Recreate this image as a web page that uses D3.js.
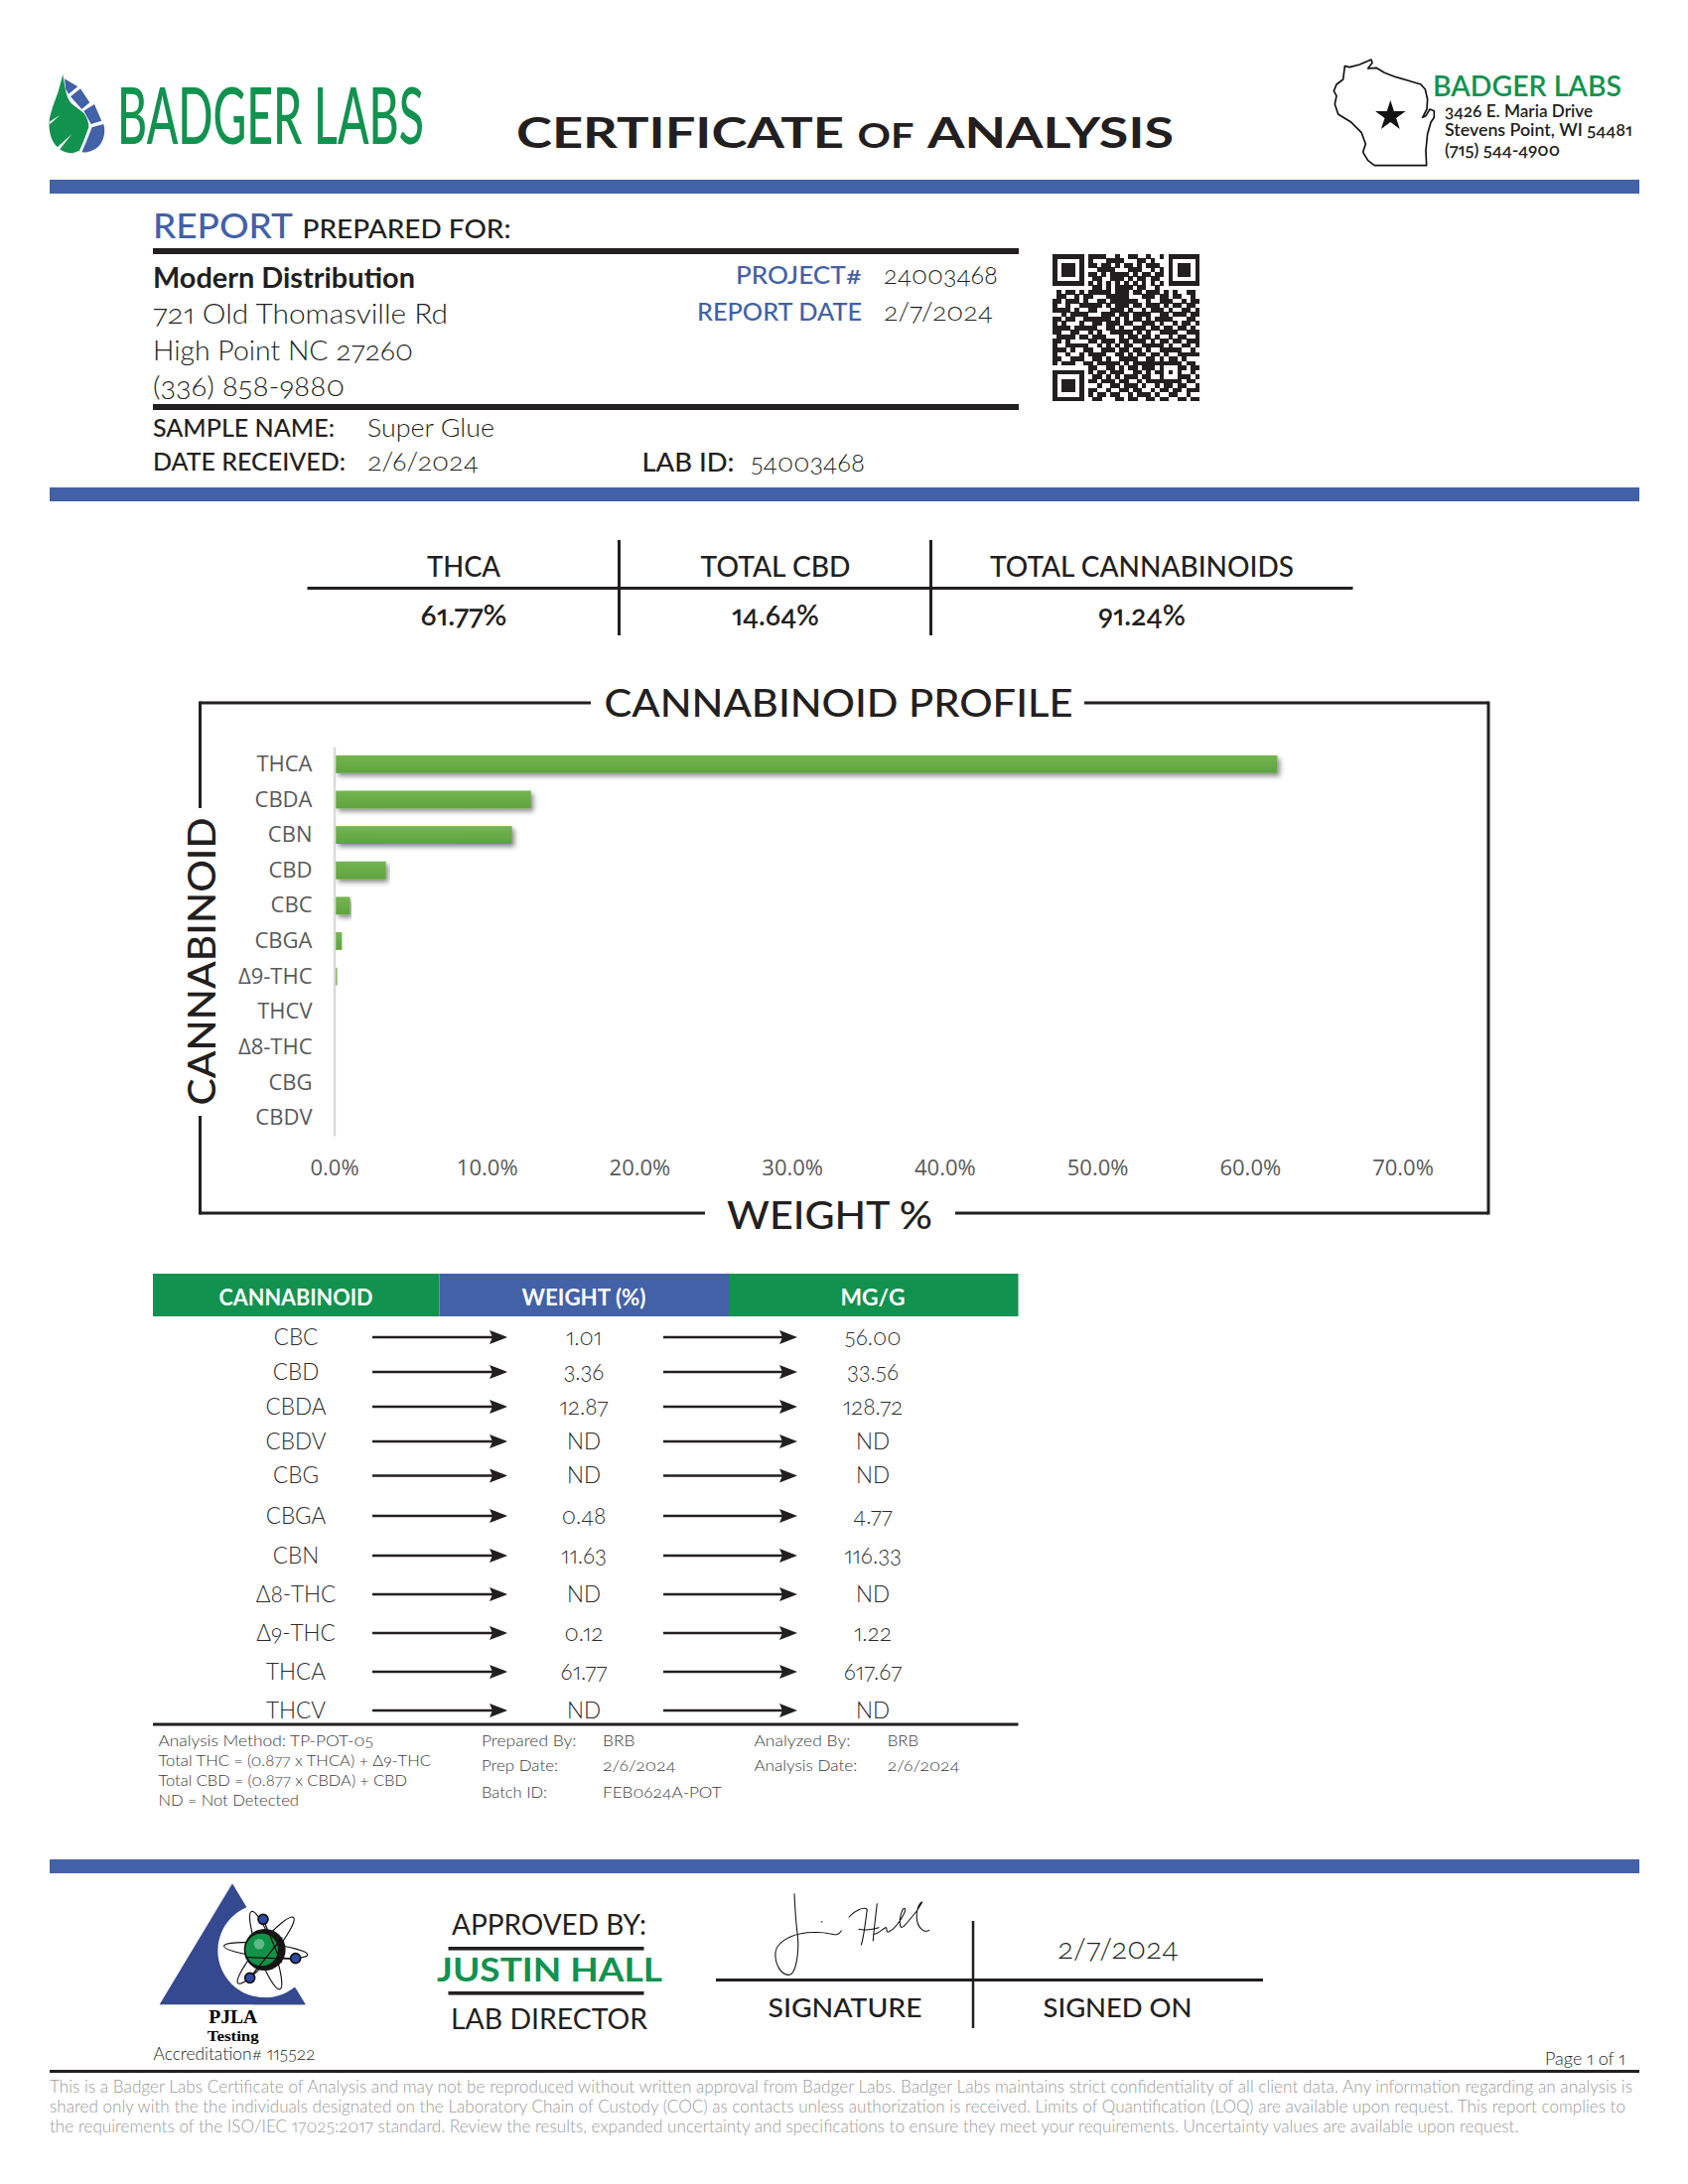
<!DOCTYPE html>
<html><head><meta charset="utf-8">
<script src="https://cdn.jsdelivr.net/npm/d3@7/dist/d3.min.js"></script>
<style>
html,body{margin:0;padding:0;background:#fff}
svg{display:block;position:absolute;left:0;top:0}
text{font-family:Lato,"Open Sans",sans-serif;font-feature-settings:"onum" 1,"pnum" 1;font-kerning:normal}
</style></head><body>
<script>
// ---- data ----
const categories = ["THCA","CBDA","CBN","CBD","CBC","CBGA","Δ9-THC","THCV","Δ8-THC","CBG","CBDV"];
const weights = [61.77,12.87,11.63,3.36,1.01,0.48,0.12,0,0,0,0];
const xTicks = [0,10,20,30,40,50,60,70];
const tableNames = ["CBC","CBD","CBDA","CBDV","CBG","CBGA","CBN","Δ8-THC","Δ9-THC","THCA","THCV"];
const tableWeight = ["1.01","3.36","12.87","ND","ND","0.48","11.63","ND","0.12","61.77","ND"];
const tableMg = ["56.00","33.56","128.72","ND","ND","4.77","116.33","ND","1.22","617.67","ND"];
const summaryHeads = ["THCA","TOTAL CBD","TOTAL CANNABINOIDS"];
const summaryVals = ["61.77%","14.64%","91.24%"];
const disclaimer = [
"This is a Badger Labs Certificate of Analysis and may not be reproduced without written approval from Badger Labs. Badger Labs maintains strict confidentiality of all client data. Any information regarding an analysis is",
"shared only with the the individuals designated on the Laboratory Chain of Custody (COC) as contacts unless authorization is received. Limits of Quantification (LOQ) are available upon request. This report complies to",
"the requirements of the ISO/IEC 17025:2017 standard. Review the results, expanded uncertainty and specifications to ensure they meet your requirements. Uncertainty values are available upon request."];
const qrRows = [
"111111101111001001100100101111111",
"100000101000111100011010001000001",
"101110101101101011010111001011101",
"101110100011110001110010101011101",
"101110101101011110101101101011101",
"100000100110011101011011001000001",
"111111101010101010101010101111111",
"000000000110101111011001000000000",
"010110101111101110110111010100110",
"011001011000111110001110110110010",
"110111010011011111100100111001011",
"100100111110101110110111010110110",
"111101001100011101001011101001101",
"001011110001110110111100110111011",
"110110011111101010110101111000110",
"101000100110111011001110100101101",
"111101111100110100111011011011010",
"110011001010011111010100111100111",
"011110110111000101101101001011001",
"110100001101110110111010110110111",
"100111110010101011001111101001101",
"111010011001110110110100111110010",
"100100101111001101011011010011111",
"110011100110100111100110101101000",
"101110011011111010111111111110110",
"000000001100110101101110100011011",
"111111101011011100110101101010010",
"100000100110101011101100100011101",
"101110101101110110010111111110110",
"101110100010011011101001011011001",
"101110101100100110110010110110111",
"100000101011011001011101001100100",
"111111100110001101100110110011011"];

// ---- palette / layout ----
const GREEN="#12924f", BLUE="#4261a7", INK="#231f20", NAVY="#34498f";
const rowY=[1347,1382,1417,1452,1486.5,1527,1567,1606,1645,1684,1723];
const svg=d3.select("body").append("svg").attr("width",1700).attr("height",2200).attr("viewBox","0 0 1700 2200");
svg.append("rect").attr("width",1700).attr("height",2200).attr("fill","#fff");
const defs=svg.append("defs");
const grad=defs.append("linearGradient").attr("id","barGrad").attr("x1",0).attr("y1",0).attr("x2",0).attr("y2",1);
grad.append("stop").attr("offset",0).attr("stop-color","#74b550");
grad.append("stop").attr("offset",1).attr("stop-color","#5fa33e");
const sh=defs.append("filter").attr("id","barShadow").attr("x","-5%").attr("y","-30%").attr("width","112%").attr("height","190%").attr("filterUnits","objectBoundingBox");
sh.append("feDropShadow").attr("dx",2.5).attr("dy",3).attr("stdDeviation",2.4).attr("flood-color","#000").attr("flood-opacity",.45);

function T(x,y,s,o={}){
  const t=svg.append("text").attr("x",x).attr("y",y).text(s)
    .attr("font-size",o.size||24).attr("font-weight",o.weight||400)
    .attr("fill",o.fill||INK).attr("text-anchor",o.anchor||"start");
  if(o.w) t.attr("textLength",o.w).attr("lengthAdjust","spacingAndGlyphs");
  if(o.family) t.style("font-family",o.family);
  if(o.transform) t.attr("transform",o.transform);
  return t;
}
function R(x,y,w,h,fill){return svg.append("rect").attr("x",x).attr("y",y).attr("width",w).attr("height",h).attr("fill",fill);}
function L(x1,y1,x2,y2,c,w){return svg.append("line").attr("x1",x1).attr("y1",y1).attr("x2",x2).attr("y2",y2).attr("stroke",c||INK).attr("stroke-width",w||3);}

// ---- header ----
const logo=svg.append("g").attr("transform","translate(45,70) scale(.3333)");
logo.append("path").attr("fill",GREEN).attr("d","M55,15 L40,70 L25,110 L15,145 C10,180 18,210 30,225 C45,245 65,253 85,253 L105,245 L118,215 L133,175 C134,160 128,145 118,132 C105,118 85,110 75,95 C65,80 60,50 55,15Z");
logo.append("path").attr("fill","#fff").attr("d","M46,138 L14,158 L16,165Z M82,195 L38,235 L46,241Z");
logo.selectAll("path.b").data(["M60,28 L100,52 L72,74 L63,58Z","M108,58 L136,100 L112,120 L78,82Z","M150,105 L172,155 L140,165 L118,125Z","M178,165 C185,190 178,215 165,230 C150,245 130,252 112,250 L125,220 L143,175Z"])
  .join("path").attr("class","b").attr("fill",BLUE).attr("d",d=>d);
// narrow wordmark: squeeze by measured scale so its box stays its drawn width
const wm=T(0,0,"BADGER LABS",{size:79,weight:500,fill:GREEN});
wm.attr("transform",`translate(118,145) scale(${309/wm.node().getComputedTextLength()},1)`);
T(520,149,"CERTIFICATE",{size:42,weight:700,w:330});
T(863.5,149,"OF",{size:35,weight:700,w:57});
T(934,149,"ANALYSIS",{size:42,weight:700,w:248});
const wi=svg.append("g").attr("transform","translate(1336,55) scale(.3333)");
wi.append("path").attr("fill","none").attr("stroke","#111").attr("stroke-width",5).attr("stroke-linejoin","round")
 .attr("d","M55,35 L70,38 L100,30 L135,15 L138,25 L125,42 L150,40 L175,55 L210,68 L245,78 L285,90 L298,105 L305,135 L303,165 L290,190 L300,185 L312,165 L325,170 L325,190 L315,205 L305,240 L300,290 L302,335 L145,335 L125,320 L110,295 L118,270 L105,235 L75,205 L35,180 L25,150 L30,125 L22,110 L30,90 L50,75Z");
wi.append("path").attr("fill","#111").attr("transform","translate(193,186)").attr("d",d3.symbol(d3.symbolStar,2600));
T(1443,97,"BADGER LABS",{size:28,weight:600,fill:GREEN,w:190});
T(1455,118,"3426 E. Maria Drive",{size:16.5,weight:600,w:149});
T(1455,137,"Stevens Point, WI 54481",{size:16.5,weight:600,w:189});
T(1455,157,"(715) 544-4900",{size:16.5,weight:600,w:116});
R(50,181,1601,14,BLUE);

// ---- client block ----
T(154,240,"REPORT",{size:35,weight:500,fill:BLUE,w:141});
T(304.5,240,"PREPARED FOR:",{size:27,weight:500,w:210});
R(154,250,872,6,INK);
T(154,290,"Modern Distribution",{size:29,weight:700,w:264});
T(154,325.5,"721 Old Thomasville Rd",{size:28,weight:300,w:297});
T(154,363,"High Point NC 27260",{size:28,weight:300,w:262});
T(154,399,"(336) 858-9880",{size:28,weight:300,w:193});
R(154,407,872,6,INK);
T(154,440,"SAMPLE NAME:",{size:24,weight:500,w:183});
T(370,440,"Super Glue",{size:25,weight:300,w:128});
T(154,474,"DATE RECEIVED:",{size:24,weight:500,w:194});
T(370,474,"2/6/2024",{size:25,weight:300,w:112});
T(646.5,475,"LAB ID:",{size:27,weight:500,w:93});
T(756,475,"54003468",{size:25,weight:300,w:115});
T(868,286,"PROJECT#",{size:25,weight:500,fill:BLUE,anchor:"end",w:127});
T(868,323,"REPORT DATE",{size:25,weight:500,fill:BLUE,anchor:"end",w:166});
T(890,286,"24003468",{size:26,weight:300,w:115});
T(890,323,"2/7/2024",{size:26,weight:300,w:110});
R(50,491,1601,14,BLUE);

// QR code
const qrX=d3.scaleLinear().domain([0,33]).range([1060,1208]);
const qrY=d3.scaleLinear().domain([0,33]).range([256,404]);
const qrG=svg.append("g").attr("fill",INK).attr("shape-rendering","crispEdges");
qrRows.forEach((row,r)=>[...row].forEach((c,k)=>{ if(c==="1") qrG.append("rect").attr("x",qrX(k)).attr("y",qrY(r)).attr("width",qrX(1)-qrX(0)+.3).attr("height",qrY(1)-qrY(0)+.3);}));

// ---- summary ----
L(309.5,592.5,1362.5,592.5,INK,3);
L(623.5,544,623.5,640,INK,3);
L(937.5,544,937.5,640,INK,3);
const sumX=[467,781,1150], sumHW=[74,151,306], sumVW=[87,88,88];
summaryHeads.forEach((s,i)=>T(sumX[i],581,s,{size:28,weight:500,anchor:"middle",w:sumHW[i]}));
summaryVals.forEach((s,i)=>T(sumX[i],629.5,s,{size:28,weight:600,anchor:"middle",w:sumVW[i]}));

// ---- chart ----
const x=d3.scaleLinear().domain([0,70]).range([336.5,1412.5]);
const y=d3.scaleBand().domain(categories).range([752,1144]).paddingInner(.5).paddingOuter(.25);
const plot=svg.append("g");
plot.selectAll("rect.bar").data(categories.map((c,i)=>({c,v:weights[i]})).filter(d=>d.v>0)).join("rect")
  .attr("class","bar").attr("x",x(0)+1.5).attr("y",d=>y(d.c)).attr("height",y.bandwidth())
  .attr("width",d=>Math.max(x(d.v)-x(0)-1,1.5))
  .attr("fill","url(#barGrad)").attr("filter",d=>d.v>1?"url(#barShadow)":null);
const ay=plot.append("g").attr("transform",`translate(${x(0)},0)`).call(d3.axisLeft(y).tickSize(0).tickPadding(22));
ay.select(".domain").attr("stroke","#d9d9d9").attr("stroke-width",2.5);
ay.selectAll("text").attr("fill","#595959").style("font-family",'"Open Sans",Lato,sans-serif').style("font-feature-settings","normal").attr("font-size",22).attr("font-weight",400);
const ax=plot.append("g").attr("transform","translate(0,1144)").call(d3.axisBottom(x).tickValues(xTicks).tickFormat(d=>d3.format(".1f")(d)+"%").tickSize(0).tickPadding(24));
ax.select(".domain").remove();
ax.selectAll("text").attr("fill","#595959").style("font-family",'"Open Sans",Lato,sans-serif').style("font-feature-settings","normal").attr("font-size",22);

// frame
const frame=[[595,708,201.5,708],[201.5,706.5,201.5,814],[201.5,1124,201.5,1223.5],[201.5,1222,710,1222],[962,1222,1499,1222],[1499,1223.5,1499,706.5],[1499,708,1092,708]];
frame.forEach(f=>L(...f,INK,3));
T(608.5,722,"CANNABINOID PROFILE",{size:39,weight:500,w:472});
T(732,1237.5,"WEIGHT %",{size:39,weight:500,w:207});
T(0,0,"CANNABINOID",{size:39,weight:500,anchor:"middle",w:290,transform:"translate(217,968.5) rotate(-90)"});

// ---- table ----
R(154,1283,288.5,43,GREEN);R(442.5,1283,291.5,43,BLUE);R(734,1283,291.5,43,GREEN);
const colX=[298,588,879];
T(colX[0],1315,"CANNABINOID",{size:23,weight:700,fill:"#fff",anchor:"middle",w:155});
T(colX[1],1315,"WEIGHT (%)",{size:23,weight:700,fill:"#fff",anchor:"middle",w:125});
T(colX[2],1315,"MG/G",{size:23,weight:700,fill:"#fff",anchor:"middle",w:65});
const tb=svg.append("g");
function col(arr,cx){ tb.selectAll(null).data(arr).join("text").attr("x",cx).attr("y",(d,i)=>rowY[i]+7.5)
  .attr("text-anchor","middle").attr("font-size",22.5).attr("font-weight",300).attr("fill","#2b2b2b").text(d=>d); }
col(tableNames,colX[0]);col(tableWeight,colX[1]);col(tableMg,colX[2]);
[[375,511],[668,803]].forEach(([a,b])=>{
  tb.selectAll(null).data(rowY).join("line").attr("x1",a).attr("x2",b-12).attr("y1",d=>d).attr("y2",d=>d).attr("stroke",INK).attr("stroke-width",2.4);
  tb.selectAll(null).data(rowY).join("path").attr("fill",INK).attr("d",d=>`M${b},${d} L${b-18},${d-7} L${b-15},${d} L${b-18},${d+7}Z`);
});
R(154,1735.5,871.5,3,INK);
const nt={size:16.5,weight:300,fill:"#3a3a3a"};
T(159.5,1758.6,"Analysis Method: TP-POT-05",{...nt,w:216.5});
T(159.5,1778.6,"Total THC = (0.877 x THCA) + Δ9-THC",{...nt,w:274.5});
T(159.5,1798.6,"Total CBD = (0.877 x CBDA) + CBD",{...nt,w:250.5});
T(159.5,1818.6,"ND = Not Detected",{...nt,w:141.5});
T(485,1758.6,"Prepared By:",{...nt,w:95.4});
T(485,1784,"Prep Date:",{...nt,w:77});
T(485,1810.5,"Batch ID:",{...nt,w:66});
T(607,1758.6,"BRB",{...nt,w:32.4});
T(607,1784,"2/6/2024",{...nt,w:73.6});
T(607,1810.5,"FEB0624A-POT",{...nt,w:119.6});
T(759.4,1758.6,"Analyzed By:",{...nt,w:97});
T(759.4,1784,"Analysis Date:",{...nt,w:104});
T(893.7,1758.6,"BRB",{...nt,w:31.3});
T(893.7,1784,"2/6/2024",{...nt,w:72.8});

// ---- footer ----
R(50,1873,1601,14,BLUE);
const pj=svg.append("g").attr("transform","translate(155,1890) scale(.3333)");
pj.append("path").attr("fill",NAVY).attr("d","M237,22 L458,388 L17,388Z");
pj.append("circle").attr("cx",335).attr("cy",225).attr("r",142).attr("fill","#fff");
pj.append("path").attr("fill",NAVY).attr("d","M430,342 L458,388 L300,388 L300,364 C350,372 395,365 430,342Z");
const orb=pj.append("g").attr("fill","none").attr("stroke","#111").attr("stroke-width",3.5);
[[127,20,6],[130,24,-50],[125,24,70]].forEach(([a,b,r])=>orb.append("ellipse").attr("cx",338).attr("cy",224).attr("rx",a).attr("ry",b).attr("transform",`rotate(${r} 338 224)`));
pj.append("circle").attr("cx",335).attr("cy",222).attr("r",63).attr("fill","#151515");
pj.append("circle").attr("cx",326).attr("cy",222).attr("r",49).attr("fill","#0f9447");
pj.append("circle").attr("cx",318).attr("cy",205).attr("r",16).attr("fill","#5fb78a");
[[330,130,385,262],[290,307,388,185],[278,245,428,250]].forEach(l=>pj.append("line").attr("x1",l[0]).attr("y1",l[1]).attr("x2",l[2]).attr("y2",l[3]).attr("stroke","#111").attr("stroke-width",4));
[[330,130],[428,248],[290,307]].forEach(c=>pj.append("circle").attr("cx",c[0]).attr("cy",c[1]).attr("r",15).attr("fill","#2f4aa5").attr("stroke","#111").attr("stroke-width",5));
T(234.7,2038,"PJLA",{size:19,weight:700,anchor:"middle",w:49,family:'"Liberation Serif",serif',fill:"#000"});
T(234.7,2056,"Testing",{size:15.5,weight:700,anchor:"middle",w:52,family:'"Liberation Serif",serif',fill:"#000"});
T(154.5,2075,"Accreditation# 115522",{size:17,weight:300,w:163});
T(455,1948.5,"APPROVED BY:",{size:28,weight:400,w:196});
R(451.5,1961,197,3.6,INK);
T(440,1996,"JUSTIN HALL",{size:33,weight:700,fill:GREEN,w:227});
R(451.5,2006,197,3.6,INK);
T(454,2044,"LAB DIRECTOR",{size:28,weight:400,w:198});
L(721,1994.5,1272,1994.5,INK,3);
L(980,1935,980,2043,INK,2.5);
const sig=svg.append("g").attr("transform","translate(770,1895) scale(.3333)").attr("fill","none").attr("stroke","#111").attr("stroke-width",3.2).attr("stroke-linecap","round");
["M90,38 C92,80 95,130 100,165 C105,215 95,280 75,283 C50,285 30,250 33,215 C35,190 70,165 110,158 C140,152 180,155 195,158 C210,160 220,168 232,150",
 "M172,122 L174,123",
 "M255,108 C270,90 300,75 310,85 C305,120 300,170 292,192",
 "M285,145 C300,150 330,145 345,140",
 "M340,68 C335,110 330,150 328,180",
 "M330,160 C345,160 355,145 365,140 C372,138 365,155 375,153 C395,145 425,100 425,85 C420,70 405,110 410,135 C415,150 430,125 460,90 C475,65 480,60 472,65 C455,85 455,130 475,145 C485,155 495,150 497,148"
].forEach(d=>sig.append("path").attr("d",d));
T(1065,1973,"2/7/2024",{size:29,weight:300,w:122});
T(773.5,2032,"SIGNATURE",{size:27,weight:500,w:155});
T(1050.5,2032,"SIGNED ON",{size:27,weight:500,w:150});
T(1556,2080,"Page 1 of 1",{size:17,weight:300,w:81});
R(50,2085,1601,3,INK);
const discW=[1594,1587,1479.5], discY=[2108,2128,2148];
disclaimer.forEach((s,i)=>T(50,discY[i],s,{size:17,weight:300,fill:"#9a9a9a",w:discW[i]}));
</script></body></html>
